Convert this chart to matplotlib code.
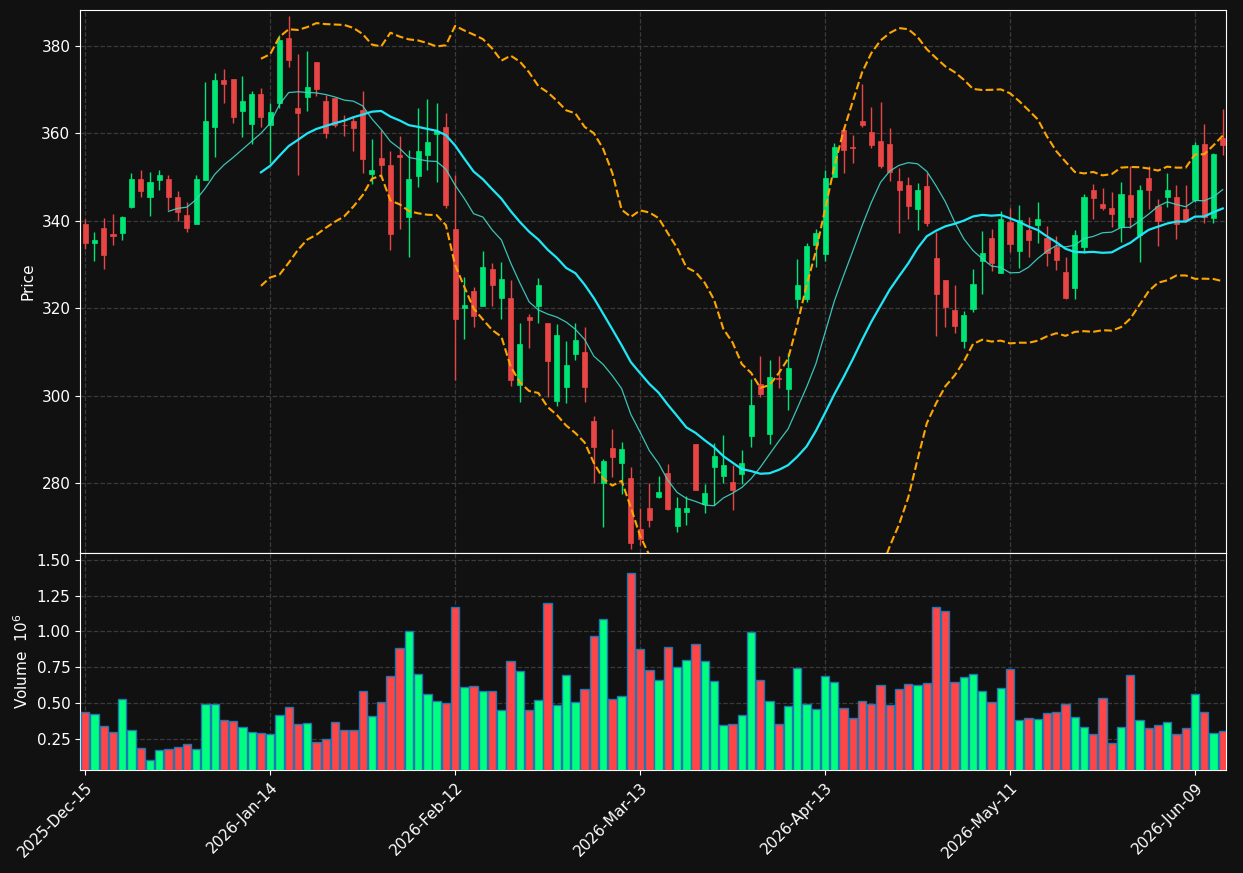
import matplotlib
matplotlib.use("Agg")
import matplotlib.pyplot as plt
import numpy as np
import pandas as pd

# OHLC, one row per trading day
opens = [339.3, 335.0, 338.4, 337.0, 337.1, 343.2, 349.6, 345.5, 349.4, 349.6,
         345.4, 341.3, 339.3, 349.4, 361.5, 372.2, 372.5, 365.0, 362.2, 369.0,
         361.8, 367.0, 381.8, 365.8, 368.4, 376.2, 367.4, 368.1, 362.0, 362.8,
         365.4, 350.7, 354.4, 352.8, 355.1, 340.9, 350.3, 355.1, 359.9, 361.5,
         338.1, 320.0, 323.9, 320.4, 329.0, 322.4, 322.3, 302.4, 317.9, 320.4,
         316.6, 298.8, 302.0, 309.4, 310.0, 294.2, 280.1, 288.0, 284.6, 281.1,
         269.5, 274.3, 276.8, 282.3, 270.2, 273.4, 288.9, 275.1, 283.7, 281.7,
         280.2, 282.1, 290.8, 302.7, 291.1, 304.1, 301.4, 322.1, 322.2, 334.5,
         332.3, 349.9, 360.8, 356.8, 362.8, 360.3, 358.3, 357.6, 349.1, 348.2,
         342.7, 348.0, 331.5, 326.5, 319.6, 312.6, 319.9, 330.7, 336.1, 328.0,
         339.7, 333.1, 337.9, 339.1, 336.1, 334.0, 328.3, 324.7, 334.1, 347.0,
         343.8, 342.9, 338.5, 345.9, 336.8, 349.8, 343.4, 345.4, 345.4, 342.7,
         344.8, 357.6, 340.6, 359.0]
highs = [340.4, 337.5, 340.6, 341.5, 341.0, 350.9, 351.5, 351.1, 351.5, 350.5,
         346.7, 344.2, 350.5, 371.8, 373.8, 374.7, 372.5, 373.1, 369.7, 370.3,
         366.9, 382.5, 386.9, 378.1, 378.8, 376.2, 368.7, 368.1, 364.1, 363.8,
         369.7, 358.6, 360.8, 355.9, 359.3, 356.2, 365.7, 367.8, 366.9, 364.6,
         350.5, 327.2, 324.8, 333.0, 330.3, 330.5, 326.4, 316.5, 318.6, 326.8,
         316.6, 316.3, 312.6, 316.6, 315.8, 295.3, 285.4, 292.3, 289.3, 283.7,
         274.2, 279.9, 281.7, 284.3, 276.7, 277.1, 288.9, 279.7, 289.1, 290.9,
         284.1, 287.5, 303.7, 309.0, 308.1, 309.1, 309.7, 331.2, 335.0, 338.0,
         351.6, 357.7, 361.5, 359.6, 371.2, 366.0, 367.1, 361.3, 352.0, 350.0,
         348.6, 350.9, 337.4, 326.5, 325.2, 319.4, 328.9, 337.7, 338.1, 342.3,
         342.9, 343.5, 340.8, 344.2, 338.7, 336.5, 331.8, 337.9, 346.1, 348.3,
         347.4, 346.5, 348.8, 352.5, 348.2, 352.5, 345.0, 350.9, 348.1, 348.1,
         357.9, 362.1, 355.4, 365.5]
lows = [333.5, 330.9, 328.9, 334.5, 335.5, 343.0, 345.4, 341.0, 347.0, 342.4,
        339.9, 337.4, 339.3, 349.4, 354.5, 366.9, 362.3, 359.1, 357.5, 361.4,
        353.2, 365.7, 375.1, 350.5, 365.2, 368.6, 359.0, 361.4, 359.3, 355.9,
        350.9, 348.4, 350.1, 333.2, 338.2, 331.6, 347.8, 351.5, 348.9, 342.9,
        303.6, 312.9, 315.6, 320.4, 320.4, 317.5, 302.1, 298.5, 311.0, 316.5,
        299.6, 297.7, 298.2, 308.1, 298.5, 279.9, 270.0, 281.4, 277.6, 265.0,
        265.8, 270.0, 276.5, 273.9, 268.9, 270.3, 278.3, 273.1, 275.0, 279.9,
        273.8, 279.8, 288.2, 299.7, 288.9, 301.7, 296.7, 320.0, 321.5, 329.4,
        330.7, 349.9, 351.0, 353.3, 361.5, 356.6, 352.0, 349.0, 337.3, 340.3,
        337.8, 338.7, 313.7, 315.8, 314.3, 310.8, 319.2, 323.2, 328.6, 328.0,
        332.9, 329.1, 331.6, 334.8, 329.7, 328.7, 322.0, 322.0, 332.6, 340.3,
        342.5, 338.5, 335.2, 338.4, 330.6, 342.6, 334.3, 343.2, 335.8, 339.8,
        344.4, 339.4, 339.5, 355.1]
closes = [335.0, 335.6, 332.2, 336.5, 340.9, 349.6, 346.7, 348.9, 350.5, 345.5,
          341.9, 338.4, 349.6, 362.8, 372.2, 371.2, 363.8, 367.4, 369.0, 363.8,
          364.8, 381.4, 376.8, 364.7, 370.6, 370.1, 360.1, 361.9, 361.8, 361.3,
          354.1, 351.6, 352.8, 337.0, 354.6, 349.6, 356.0, 358.0, 360.6, 343.6,
          317.5, 320.8, 318.3, 329.4, 325.2, 326.7, 303.6, 311.8, 317.4, 325.3,
          308.0, 313.9, 307.0, 312.7, 302.0, 288.3, 285.0, 286.0, 287.8, 266.3,
          267.3, 271.6, 277.9, 274.1, 274.3, 274.3, 278.3, 277.7, 286.2, 284.1,
          278.3, 284.6, 297.9, 300.4, 304.3, 303.9, 306.3, 325.3, 334.2, 337.2,
          349.8, 356.8, 356.2, 356.7, 361.9, 357.3, 352.5, 351.2, 347.1, 343.4,
          347.1, 339.5, 323.3, 320.3, 315.9, 318.4, 325.5, 332.6, 330.4, 340.3,
          334.6, 340.2, 335.5, 340.4, 332.7, 331.0, 322.3, 336.8, 345.4, 345.3,
          342.9, 341.6, 346.1, 340.9, 347.0, 347.0, 340.0, 347.0, 339.3, 340.2,
          357.3, 340.8, 355.3, 357.3]
# volume in millions
volumes = [0.436, 0.422, 0.338, 0.297, 0.527, 0.310, 0.185, 0.101, 0.171, 0.178,
           0.192, 0.213, 0.178, 0.492, 0.492, 0.380, 0.373, 0.331, 0.297, 0.290,
           0.283, 0.415, 0.471, 0.352, 0.359, 0.227, 0.248, 0.366, 0.310, 0.310,
           0.583, 0.408, 0.506, 0.688, 0.883, 1.002, 0.702, 0.562, 0.513, 0.499,
           1.169, 0.611, 0.618, 0.583, 0.583, 0.450, 0.792, 0.723, 0.450, 0.520,
           1.197, 0.485, 0.695, 0.506, 0.597, 0.967, 1.086, 0.527, 0.548, 1.407,
           0.876, 0.729, 0.660, 0.890, 0.750, 0.799, 0.911, 0.792, 0.653, 0.345,
           0.352, 0.415, 0.995, 0.660, 0.513, 0.352, 0.478, 0.743, 0.492, 0.457,
           0.688, 0.646, 0.464, 0.394, 0.513, 0.492, 0.625, 0.485, 0.597, 0.632,
           0.625, 0.639, 1.169, 1.141, 0.646, 0.681, 0.702, 0.583, 0.506, 0.604,
           0.737, 0.380, 0.394, 0.387, 0.429, 0.436, 0.492, 0.401, 0.331, 0.283,
           0.534, 0.220, 0.331, 0.695, 0.380, 0.324, 0.345, 0.366, 0.283, 0.324,
           0.562, 0.436, 0.290, 0.304]

tick_pos = [0, 20, 40, 60, 80, 100, 120]
tick_labels = ["2025-Dec-15", "2026-Jan-14", "2026-Feb-12", "2026-Mar-13",
               "2026-Apr-13", "2026-May-11", "2026-Jun-09"]

#colours-----------------------------
bg = "#111111"
up_c = "#00e676"
dn_c = "#e84545"
vup_c = "#00ff80"
vdn_c = "#ff4545"
grid_c = "#3a3a3a"

o = np.array(opens); h = np.array(highs); l = np.array(lows); c = np.array(closes)
v = np.array(volumes)
x = np.arange(len(c))
up = c >= o

cs = pd.Series(c)
ma10 = cs.rolling(10).mean()
ma20 = cs.rolling(20).mean()
sd20 = cs.rolling(20).std(ddof=0)
bb_up = ma20 + 2 * sd20
bb_lo = ma20 - 2 * sd20

fig = plt.figure(figsize=(12.43, 8.73), dpi=100, facecolor=bg)
ax = fig.add_axes([0.0644, 0.3666, 0.9219, 0.6219])
axv = fig.add_axes([0.0644, 0.1180, 0.9219, 0.2486], sharex=ax)

for a in (ax, axv):
    a.set_facecolor(bg)
    for s in a.spines.values():
        s.set_color("white")
    a.tick_params(colors="white", labelsize=11)
    a.grid(True, color=grid_c, linestyle="--", linewidth=0.9)
    a.set_axisbelow(True)

# candles
cols = np.where(up, up_c, dn_c)
ax.vlines(x, l, h, colors=cols, linewidth=1)
ax.bar(x, np.maximum(np.abs(c - o), 0.15), bottom=np.minimum(o, c), width=0.55,
       color=cols, edgecolor=cols, linewidth=0.5, zorder=3)

ax.plot(x, ma10, color="#3fd6c8", linewidth=0.9, alpha=0.9, zorder=4)
ax.plot(x, ma20, color="#1ee8f8", linewidth=1.6, zorder=4)
ax.plot(x, bb_up, color="#ffa500", linestyle="--", linewidth=1.5, zorder=4)
ax.plot(x, bb_lo, color="#ffa500", linestyle="--", linewidth=1.5, zorder=4)

ax.set_ylim(264.0, 388.2)
ax.set_yticks([280, 300, 320, 340, 360, 380])
ax.set_ylabel("Price", color="white", fontsize=11)
ax.tick_params(labelbottom=False, bottom=False)

# volume
vcols = np.where(up, vup_c, vdn_c)
axv.bar(x, v, width=0.9, color=vcols, edgecolor="#1f77b4", linewidth=1, zorder=3)
axv.set_ylim(0.03, 1.548)
axv.set_yticks([0.25, 0.5, 0.75, 1.0, 1.25, 1.5])
axv.set_yticklabels(["0.25", "0.50", "0.75", "1.00", "1.25", "1.50"])
axv.set_ylabel("Volume  $10^{6}$", color="white", fontsize=11)

axv.set_xlim(-0.56, 123.35)
axv.set_xticks(tick_pos)
axv.set_xticklabels(tick_labels, rotation=45, ha="right", rotation_mode="anchor")

fig.savefig("out.png", dpi=100, facecolor=bg)
